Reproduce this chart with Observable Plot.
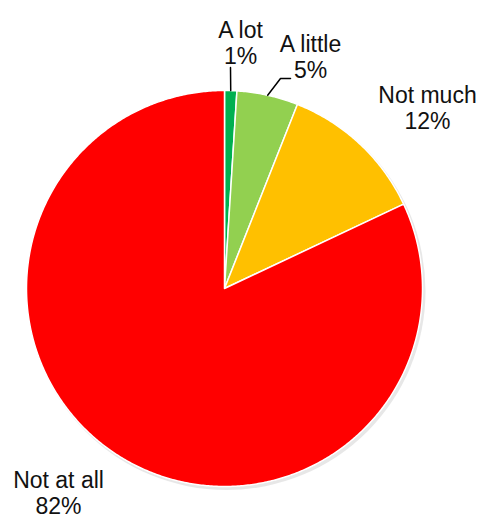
<!DOCTYPE html>
<html>
<head>
<meta charset="utf-8">
<script src="https://cdn.jsdelivr.net/npm/d3@7"></script>
<script src="https://cdn.jsdelivr.net/npm/@observablehq/plot@0.6"></script>
<style>
  html, body { margin: 0; padding: 0; background: #fff; }
  #chart svg { display: block; }
</style>
</head>
<body>
<div id="chart"></div>
<script>
// ---- data ----
const categories = ["A lot", "A little", "Not much", "Not at all"];
const values = [1, 5, 12, 82];
const sliceColors = ["#00B050", "#92D050", "#FFC000", "#FF0000"];

// ---- layout (pixel geometry of the picture) ----
const W = 480, H = 517;
const CX = 224, CY = 288, R = 198;
const toUX = px => (px - CX) / R;
const toUY = py => (CY - py) / R;

// label anchors: centre x and baseline of last line (pixels)
const labelLayout = [
  {x: 240, y: 63},
  {x: 310, y: 77},
  {x: 427, y: 128},
  {x: 58,  y: 513}
];
// leader line extra points (pixels), starting from slice mid-angle on the rim
const leaderLayout = [
  [[230, 67]],
  [[280, 78], [290, 78]],
  null,
  null
];

// ---- build geometry in unit coordinates ----
const pie = d3.pie().sort(null).value(d => d)(values);
const slicePts = [];
pie.forEach((p, i) => {
  const a0 = p.startAngle, a1 = p.endAngle;
  const n = Math.max(2, Math.ceil((a1 - a0) / (Math.PI / 360)));
  slicePts.push({cat: categories[i], x: 0, y: 0});
  for (let k = 0; k <= n; k++) {
    const a = a0 + (a1 - a0) * k / n;
    slicePts.push({cat: categories[i], x: Math.sin(a), y: Math.cos(a)});
  }
  slicePts.push({cat: categories[i], x: 0, y: 0});
});

const leaderPts = [];
pie.forEach((p, i) => {
  if (!leaderLayout[i]) return;
  const m = (p.startAngle + p.endAngle) / 2;
  leaderPts.push({cat: categories[i], x: Math.sin(m), y: Math.cos(m)});
  leaderLayout[i].forEach(([px, py]) => leaderPts.push({cat: categories[i], x: toUX(px), y: toUY(py)}));
});

const labels = categories.map((c, i) => ({
  text: `${c}\n${values[i]}%`,
  x: toUX(labelLayout[i].x),
  y: toUY(labelLayout[i].y)
}));

const chart = Plot.plot({
  width: W,
  height: H,
  marginLeft: CX - R,
  marginRight: W - (CX + R),
  marginTop: CY - R,
  marginBottom: H - (CY + R),
  style: {fontFamily: "'Liberation Sans', Arial, sans-serif", background: "#fff", overflow: "visible"},
  x: {domain: [-1, 1], axis: null},
  y: {domain: [-1, 1], axis: null},
  color: {domain: categories, range: sliceColors},
  marks: [
    // soft shadow
    Plot.dot([{x: 0, y: 0}], {x: "x", y: "y", r: R + 1, fill: "#bbb", fillOpacity: 0.35, dx: 2, dy: 2.5, stroke: "none"}),
    Plot.line(slicePts, {x: "x", y: "y", z: "cat", fill: "cat", stroke: "#fff", strokeWidth: 1.5, strokeLinejoin: "round", curve: "linear"}),
    Plot.line(leaderPts, {x: "x", y: "y", z: "cat", stroke: "#000", strokeWidth: 1.5}),
    Plot.text(labels, {x: "x", y: "y", text: "text", fontSize: 23, lineHeight: 1.12, textAnchor: "middle", lineAnchor: "bottom", fill: "#111"})
  ]
});
document.getElementById("chart").appendChild(chart);
</script>
</body>
</html>
